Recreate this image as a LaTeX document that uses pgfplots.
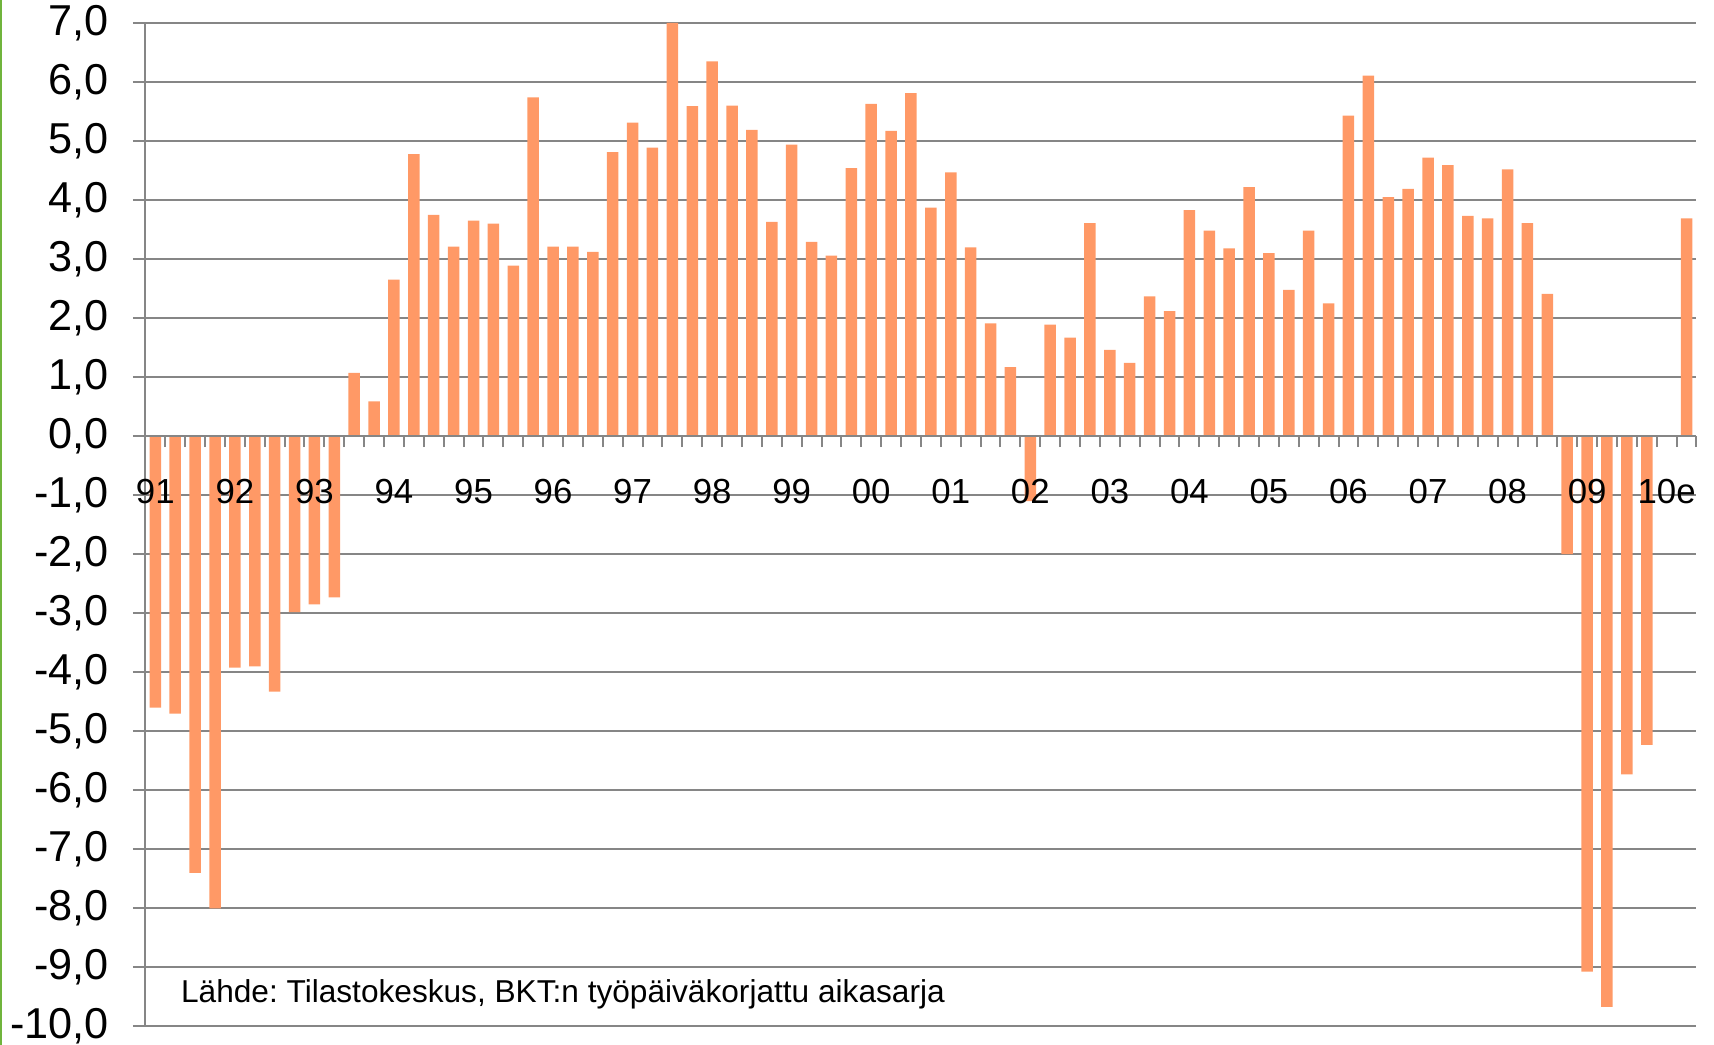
\documentclass[border=0pt]{standalone}
\usepackage{pgfplots}
\pgfplotsset{compat=1.18}
\usepackage{fontspec}
\setmainfont{Liberation Sans}
\definecolor{barc}{RGB}{255,153,102}
\definecolor{gridc}{RGB}{134,134,134}
\definecolor{framec}{RGB}{112,180,60}
\pgfplotsset{
  layers/mylayers/.define layer set={
    axis background,axis grid,main,axis ticks,axis lines,axis tick labels,
    axis descriptions,axis foreground
  }{/pgfplots/layers/standard},
}
\pgfplotstableread{
x y
0 -4.6
1 -4.7
2 -7.4
3 -8.0
4 -3.92
5 -3.9
6 -4.33
7 -2.98
8 -2.85
9 -2.73
10 1.07
11 0.59
12 2.65
13 4.78
14 3.75
15 3.21
16 3.65
17 3.60
18 2.89
19 5.74
20 3.21
21 3.21
22 3.12
23 4.81
24 5.31
25 4.89
26 7.0
27 5.59
28 6.35
29 5.60
30 5.19
31 3.63
32 4.94
33 3.29
34 3.06
35 4.54
36 5.63
37 5.17
38 5.81
39 3.87
40 4.47
41 3.20
42 1.91
43 1.17
44 -1.1
45 1.89
46 1.67
47 3.61
48 1.46
49 1.24
50 2.37
51 2.12
52 3.83
53 3.48
54 3.18
55 4.22
56 3.10
57 2.48
58 3.48
59 2.25
60 5.43
61 6.11
62 4.05
63 4.19
64 4.72
65 4.59
66 3.73
67 3.69
68 4.52
69 3.61
70 2.41
71 -2.0
72 -9.07
73 -9.67
74 -5.73
75 -5.23
77 3.69
}\datatable
\begin{document}
\frenchspacing
\begin{tikzpicture}[x=1mm,y=1mm]
\fill[framec] (0,0) rectangle (0.25,104.5);
\begin{axis}[
  set layers=mylayers,
  at={(14.54mm,1.86mm)}, anchor=south west,
  scale only axis, width=155.11mm, height=100.34mm,
  xmin=-0.5, xmax=77.5, ymin=-10, ymax=7,
  axis y line=left, axis x line=middle,
  axis line style={-, draw=gridc, line width=0.2mm},
  tick align=outside,
  ytick={-10,-9,...,7},
  yticklabels={{-10,0},{-9,0},{-8,0},{-7,0},{-6,0},{-5,0},{-4,0},{-3,0},{-2,0},{-1,0},{0,0},{1,0},{2,0},{3,0},{4,0},{5,0},{6,0},{7,0}},
  ymajorgrids,
  grid style={draw=gridc, line width=0.2mm},
  major tick length=1.25mm,
  minor tick length=1.1mm,
  major y tick style={draw=gridc, line width=0.2mm},
  major x tick style={draw=none},
  minor x tick style={draw=gridc, line width=0.2mm},
  xtick={0,4,...,76},
  xticklabels={91,92,93,94,95,96,97,98,99,00,01,02,03,04,05,06,07,08,09,10e},
  minor xtick={-0.5,0.5,...,77.5},
  yticklabel style={font=\fontsize{12.3}{14}\selectfont, anchor=east, xshift=-1.15mm},
  xticklabel style={font=\fontsize{9.9}{12}\selectfont, anchor=center, yshift=-4.27mm},
  ybar, bar width=1.15mm,
]
\addplot[fill=barc, draw=none, bar shift=0pt] table[x=x,y=y] {\datatable};
\node[anchor=west, font=\fontsize{9}{10}\selectfont\frenchspacing, inner sep=0pt] at (axis cs:1.26,-9.46) {Lähde: Tilastokeskus, BKT:n työpäiväkorjattu aikasarja};
\end{axis}
\pgfresetboundingbox
\path[use as bounding box] (0,0) rectangle (171.4,104.5);
\end{tikzpicture}
\end{document}
